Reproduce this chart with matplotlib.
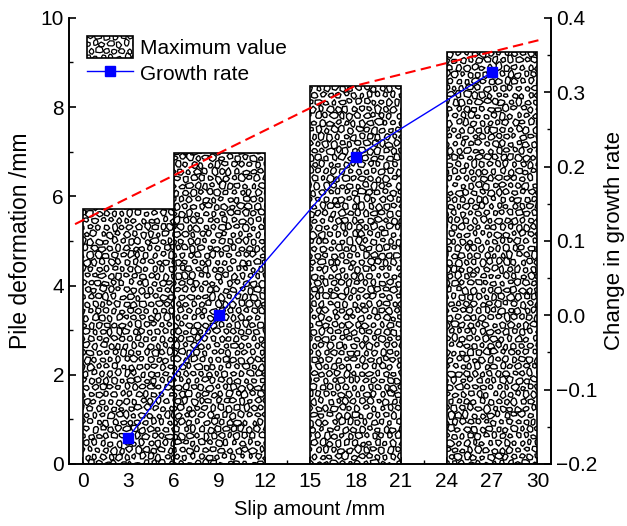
import numpy as np
import matplotlib.pyplot as plt
from matplotlib.ticker import MultipleLocator
from matplotlib.lines import Line2D
from matplotlib.patches import Patch, Rectangle
from matplotlib.collections import PolyCollection
from matplotlib.legend_handler import HandlerBase
from matplotlib.transforms import IdentityTransform

plt.rcParams['font.family'] = ['Liberation Sans', 'DejaVu Sans']
plt.rcParams['axes.linewidth'] = 1.2

# slip amount (bar centres) and measured values
slip = [3, 9, 18, 27]
max_deform = [5.72, 6.97, 8.48, 9.24]
growth_rate = [-0.165, 0.0, 0.213, 0.327]
xticks = [0, 3, 6, 9, 12, 15, 18, 21, 24, 27, 30]

# red trend: through the last three maxima, extended at both ends
trend_span = (-0.5, 30.2)


def _h(a, b, s):
    # cheap deterministic hash in [0, 1)
    v = np.sin(a * 12.9898 + b * 78.233 + s * 37.719) * 43758.5453
    return v - np.floor(v)


def pebbles(x0, x1, y0, y1, unit=1.0, seed=0, step=8.0):
    """Irregular stone outlines covering a box; sizes given in pixels * unit."""
    polys = []
    w = (x1 - x0) / unit
    h = (y1 - y0) / unit
    ny = int(h / (step * 0.87)) + 2
    nx = int(w / step) + 2
    for j in range(-1, ny):
        for i in range(-1, nx):
            cx = i * step + (j % 2) * step / 2 + (_h(i, j, seed) - 0.5) * 2.6
            cy = j * step * 0.87 + (_h(j, i, seed + 1) - 0.5) * 2.6
            r = 2.3 + 1.5 * _h(i, j, seed + 2)
            n = 5 + int(3 * _h(i, j, seed + 3))
            rot = 6.283 * _h(i, j, seed + 4)
            ex = 1 + 0.35 * (_h(i, j, seed + 5) - 0.5)
            pts = []
            for k in range(n):
                a = rot + 6.283 * k / n + 0.5 * (_h(i * 7 + k, j, seed + 6) - 0.5)
                rr = r * (0.78 + 0.4 * _h(i, j * 5 + k, seed + 7))
                pts.append((x0 + (cx + rr * ex * np.cos(a)) * unit,
                            y0 + (cy + rr / ex * np.sin(a)) * unit))
            polys.append(pts)
    return polys


class PebbleHandler(HandlerBase):
    def create_artists(self, legend, orig_handle, xdescent, ydescent,
                       width, height, fontsize, trans):
        rect = Rectangle((-xdescent, -ydescent), width, height, facecolor='white',
                         edgecolor='none', transform=trans)
        pc = PolyCollection(pebbles(-xdescent, -xdescent + width, -ydescent,
                                    -ydescent + height, unit=0.72, seed=11),
                            facecolor='none', edgecolor='black', lw=0.9, transform=trans)
        pc.set_clip_path(rect)
        frame = Rectangle((-xdescent, -ydescent), width, height, facecolor='none',
                          edgecolor='black', lw=1.2, transform=trans)
        return [rect, pc, frame]


fig = plt.figure(figsize=(6.27, 5.26), dpi=100)
ax = fig.add_axes([0.110, 0.118, 0.769, 0.848])
ax.set_xlim(-0.9, 30.9)
ax.set_ylim(0, 10)

bars = ax.bar(slip, max_deform, width=6, color='white', edgecolor='none', zorder=2)
for b_i, bar in enumerate(bars):
    (bx0, by0), (bx1, by1) = ax.transData.transform(
        [(bar.get_x(), 0), (bar.get_x() + bar.get_width(), bar.get_height())])
    pc = PolyCollection(pebbles(bx0, bx1, by0, by1, seed=b_i * 3 + 1),
                        facecolor='none', edgecolor='black', lw=1.0,
                        transform=IdentityTransform(), zorder=2.1)
    ax.add_collection(pc, autolim=False)
    pc.set_clip_path(bar)
    ax.add_patch(Rectangle((bar.get_x(), 0), bar.get_width(), bar.get_height(),
                           facecolor='none', edgecolor='black', lw=1.2, zorder=2.2))

tx = list(slip[1:])
ty = list(max_deform[1:])
k0 = (ty[1] - ty[0]) / (tx[1] - tx[0])
k1 = (ty[2] - ty[1]) / (tx[2] - tx[1])
tx = [trend_span[0]] + tx + [trend_span[1]]
ty = [ty[0] + k0 * (trend_span[0] - slip[1])] + ty + [ty[-1] + k1 * (trend_span[1] - slip[-1])]
ax.plot(tx, ty, color='red', lw=1.5, dashes=(5, 2.6), zorder=3)

ax.set_xticks(xticks)
ax.xaxis.set_minor_locator(MultipleLocator(1.5))
ax.yaxis.set_major_locator(MultipleLocator(2))
ax.yaxis.set_minor_locator(MultipleLocator(1))
ax.tick_params(which='both', direction='in', labelsize=15, top=False, right=False)
ax.tick_params(which='major', length=5, width=1.2)
ax.tick_params(which='minor', length=3, width=1.0)
ax.tick_params(axis='x', pad=6)
ax.set_xlabel('Slip amount /mm', fontsize=14.5, labelpad=6)
ax.set_ylabel('Pile deformation /mm', fontsize=16.5, labelpad=6)
ax.spines['top'].set_visible(False)

ax2 = ax.twinx()
ax2.plot(slip, growth_rate, '-s', color='blue', lw=1, ms=7.2, zorder=4)
ax2.set_ylim(-0.2, 0.4)
ax2.yaxis.set_major_locator(MultipleLocator(0.1))
ax2.yaxis.set_minor_locator(MultipleLocator(0.05))
ax2.yaxis.set_major_formatter(lambda v, p: f'{v:.1f}'.replace('-', '\u2212'))
ax2.tick_params(which='both', direction='in', labelsize=15)
ax2.tick_params(which='major', length=5, width=1.2)
ax2.tick_params(which='minor', length=3, width=1.0)
ax2.set_ylabel('Change in growth rate', fontsize=16, labelpad=5)
ax2.spines['top'].set_visible(False)

handles = [Patch(facecolor='white', edgecolor='black'),
           Line2D([], [], color='blue', lw=1, marker='s', ms=7.2)]
ax.legend(handles, ['Maximum value', 'Growth rate'], loc='upper left',
          bbox_to_anchor=(0.037, 0.96), borderaxespad=0, borderpad=0,
          frameon=False, fontsize=15,
          handlelength=2.2, handleheight=1.25, handletextpad=0.35, labelspacing=0.2,
          handler_map={Patch: PebbleHandler()})

fig.savefig('out.png', dpi=100)
